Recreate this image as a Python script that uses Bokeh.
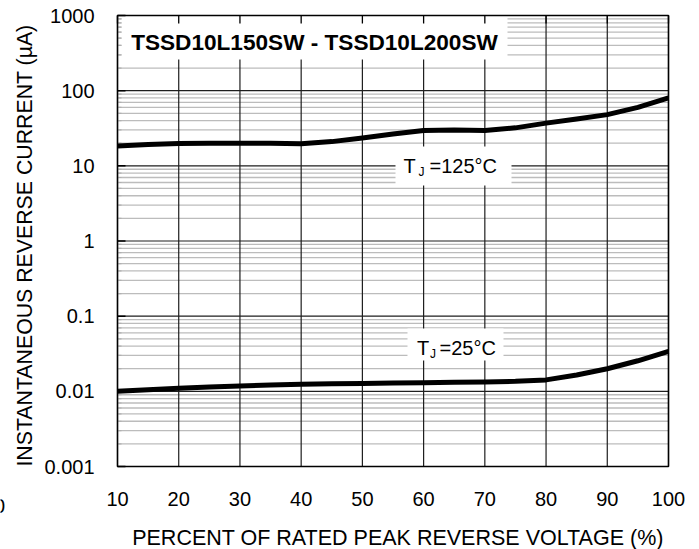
import math
from bokeh.plotting import figure
from bokeh.models import Range1d, Label
from bokeh.embed import file_html
from bokeh.resources import INLINE

# ---------------- data ----------------
voltage_pct = [10, 15, 20, 25, 30, 35, 40, 45, 50, 55, 60, 65, 70, 75, 80, 85, 90, 95, 100]
current_125 = [18.3, 19.2, 19.8, 20.0, 20.0, 19.9, 19.7, 21.0, 23.5, 26.5, 29.5, 30.0, 29.5,
               32.0, 37.0, 42.0, 48.0, 60.0, 80.0]
current_25 = [0.0100, 0.0105, 0.0110, 0.0114, 0.0118, 0.0121, 0.0124, 0.0126, 0.0127, 0.0129,
              0.0130, 0.0132, 0.0133, 0.0136, 0.0142, 0.0165, 0.0200, 0.0255, 0.0340]

x_ticks = [10, 20, 30, 40, 50, 60, 70, 80, 90, 100]
y_ticks = [0.001, 0.01, 0.1, 1, 10, 100, 1000]
y_tick_labels = ["0.001", "0.01", "0.1", "1", "10", "100", "1000"]
y_minor = [m * d for d in y_ticks[:-1] for m in range(2, 10)]

title_text = "TSSD10L150SW - TSSD10L200SW"
x_label = "PERCENT OF RATED PEAK REVERSE VOLTAGE (%)"
y_label = "INSTANTANEOUS REVERSE CURRENT (µA)"
label_125 = "=125°C"
label_25 = "=25°C"
stray_text = "0"

FONT = "Liberation Sans"
W, H = 699, 549
# plot-area position on the page (pixels), used for layout only
FL, FR, FT, FB = 117, 668, 15, 466
X0, X1 = x_ticks[0], x_ticks[-1]
LY0, LY1 = math.log10(y_ticks[0]), math.log10(y_ticks[-1])


def px2x(px):
    return X0 + (px - FL) * (X1 - X0) / (FR - FL)


def py2y(py):
    return 10 ** (LY1 - (py - FT) * (LY1 - LY0) / (FB - FT))


p = figure(frame_width=W, frame_height=H, min_border=0,
           x_range=Range1d(px2x(0), px2x(W)), y_range=Range1d(py2y(H), py2y(0)),
           y_axis_type="log", x_axis_location=None, y_axis_location=None,
           output_backend="svg", toolbar_location=None,
           background_fill_color="white", border_fill_color="white")
p.outline_line_color = None
p.xgrid.visible = False
p.ygrid.visible = False

n_minor = len(y_minor)
n_major = len(y_ticks)
n_x = len(x_ticks)

# minor horizontal grid lines
p.segment(x0=[X0] * n_minor, x1=[X1] * n_minor, y0=y_minor, y1=y_minor,
          line_color="#bcbcbc", line_width=1.3)
# vertical grid lines and decade lines
p.segment(x0=x_ticks, x1=x_ticks, y0=[y_ticks[0]] * n_x, y1=[y_ticks[-1]] * n_x,
          line_color="#1e1e1e", line_width=1.2)
p.segment(x0=[X0] * n_major, x1=[X1] * n_major, y0=y_ticks, y1=y_ticks,
          line_color="#1e1e1e", line_width=1.2)

# white backgrounds of the in-plot labels (left, right, top, bottom in page px)
boxes = [(121, 507, 15, 59), (395, 511, 146, 185), (407, 503, 328, 360)]
p.quad(left=[px2x(b[0]) for b in boxes], right=[px2x(b[1]) for b in boxes],
       top=[py2y(b[2]) for b in boxes], bottom=[py2y(b[3]) for b in boxes],
       fill_color="white", line_color=None)

# tick marks (inside the plot area)
p.segment(x0=[X0] * n_minor, x1=[px2x(FL + 4)] * n_minor, y0=y_minor, y1=y_minor,
          line_color="#b0b0b0", line_width=1.2)
p.segment(x0=[X0] * n_major, x1=[px2x(FL + 8)] * n_major, y0=y_ticks, y1=y_ticks,
          line_color="black", line_width=1.5)
p.segment(x0=x_ticks, x1=x_ticks, y0=[y_ticks[-1]] * n_x, y1=[py2y(FT + 8)] * n_x,
          line_color="black", line_width=1.3)

# plot-area outline
p.quad(left=[X0], right=[X1], bottom=[y_ticks[0]], top=[y_ticks[-1]],
       fill_color=None, line_color="black", line_width=1.5)

# curves
p.line(voltage_pct, current_125, line_color="black", line_width=5,
       line_join="round", line_cap="butt")
p.line(voltage_pct, current_25, line_color="black", line_width=5,
       line_join="round", line_cap="butt")


# ---- texts (positions are the centres of the capitals, in page px) ----
def text(px, py, s, size, align="center", **kw):
    kw.setdefault("text_font", FONT)
    kw.setdefault("text_color", "black")
    p.add_layout(Label(x=px2x(px), y=py2y(py), text=s, text_align=align,
                       text_baseline="middle", text_font_size=size, **kw))


for t in x_ticks:
    p.add_layout(Label(x=t, y=py2y(498), text=str(t), text_align="center",
                       text_baseline="middle", text_font=FONT, text_font_size="20px",
                       text_color="black"))
for t, s in zip(y_ticks, y_tick_labels):
    p.add_layout(Label(x=px2x(94), y=t, text=s, text_align="right",
                       text_baseline="middle", text_font=FONT, text_font_size="20px",
                       text_color="black"))

text(397.5, 537.5, x_label, "21.5px")
text(24, 245, y_label, "21.3px", angle=math.pi / 2)
text(4.5, 505, stray_text, "20px", align="right")

text(314, 42, title_text, "22.6px", text_font_style="bold")


def tj_label(left_px, mid_px, rest, j_dx, eq_dx):
    text(left_px, mid_px, "T", "20px", align="left")
    text(left_px + j_dx, mid_px + 6, "J", "12px", align="left")
    text(left_px + eq_dx, mid_px, rest, "20px", align="left")


tj_label(403, 165.8, label_125, 15, 26)
tj_label(416.5, 347.2, label_25, 13, 22.5)

open("out.html", "w").write(file_html(p, INLINE))
